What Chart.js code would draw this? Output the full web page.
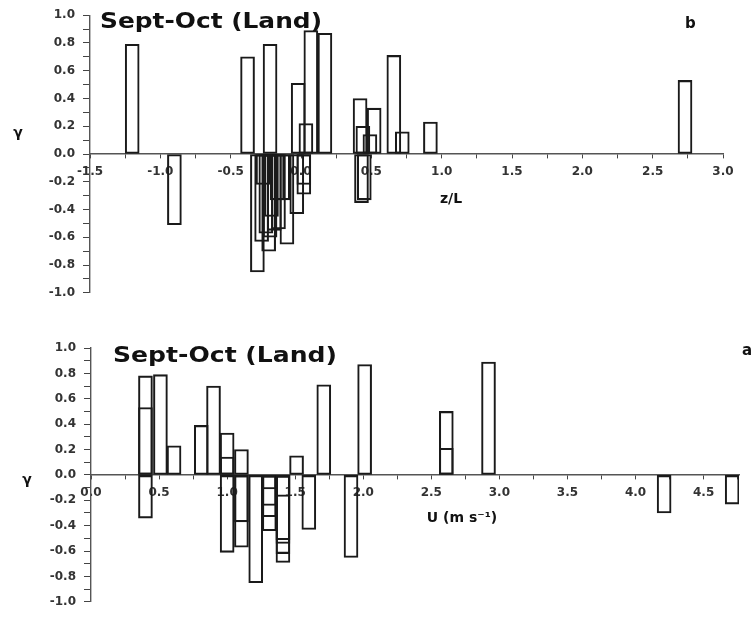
<!DOCTYPE html>
<html>
<head>
<meta charset="utf-8">
<script src="https://cdn.jsdelivr.net/npm/chart.js@4.4.0/dist/chart.umd.min.js"></script>
<style>
body { margin: 0; background: #fff; }
canvas { position: absolute; left: 0; }
#chartB { top: 0; }
#chartA { top: 308px; }
</style>
</head>
<body>
<canvas id="chartB" width="752" height="308"></canvas>
<canvas id="chartA" width="752" height="309"></canvas>
<script>
// panel b : gamma vs z/L
const zlX = [-1.2, -0.9, -0.38, -0.22, -0.02, 0.035, 0.07, 0.17, 0.42, 0.44, 0.49, 0.52, 0.66, 0.72, 0.92, 2.73,
  -0.31, -0.28, -0.27, -0.25, -0.23, -0.22, -0.21, -0.19, -0.17, -0.16, -0.13, -0.10, -0.03, 0.02, 0.02, 0.43, 0.45];
const zlGamma = [0.79, -0.51, 0.70, 0.79, 0.51, 0.22, 0.89, 0.87, 0.40, 0.20, 0.14, 0.33, 0.71, 0.16, 0.23, 0.53,
  -0.85, -0.63, -0.22, -0.57, -0.70, -0.60, -0.45, -0.55, -0.33, -0.54, -0.33, -0.65, -0.43, -0.29, -0.22, -0.35, -0.33];

// panel a : gamma vs wind speed U
const uX = [0.40, 0.40, 0.40, 0.51, 0.61, 0.81, 0.90, 1.00, 1.00, 1.00, 1.105, 1.105, 1.105, 1.21,
  1.31, 1.31, 1.31, 1.31, 1.41, 1.41, 1.41, 1.41, 1.41, 1.51, 1.60, 1.71, 1.91, 2.01, 2.61, 2.61, 2.92, 4.21, 4.71];
const uGamma = [0.78, 0.53, -0.34, 0.79, 0.23, 0.39, 0.70, 0.33, 0.14, -0.61, 0.20, -0.37, -0.57, -0.85,
  -0.11, -0.24, -0.33, -0.44, -0.17, -0.51, -0.54, -0.62, -0.69, 0.15, -0.43, 0.71, -0.65, 0.87, 0.50, 0.21, 0.89, -0.30, -0.23];

const gammaTicks = [-1.0, 1.0, 0.1];

Chart.defaults.font.family = 'DejaVu Sans';

const tickFont = { family: 'DejaVu Sans', size: 12, weight: 'bold' };

function textPlugin(items) {
  return {
    id: 'panelText',
    afterDraw(chart) {
      const ctx = chart.ctx;
      items.forEach(t => {
        ctx.save();
        ctx.font = t.font;
        ctx.fillStyle = '#111';
        ctx.textAlign = t.align || 'left';
        ctx.textBaseline = 'alphabetic';
        ctx.translate(t.x, t.y);
        if (t.width) ctx.scale(t.width / ctx.measureText(t.text).width, 1);
        ctx.fillText(t.text, 0, 0);
        ctx.restore();
      });
    }
  };
}

function makeChart(id, xs, ys, xMin, xMax, pad, yWidth, texts) {
  return new Chart(document.getElementById(id), {
    type: 'bar',
    data: {
      datasets: [{
        data: xs.map((x, i) => ({ x: x, y: ys[i] })),
        backgroundColor: 'rgba(0,0,0,0)',
        borderColor: '#1a1a1a',
        borderWidth: 1.4,
        borderSkipped: false,
        barThickness: 14,
        grouped: false
      }]
    },
    options: {
      responsive: false,
      animation: false,
      layout: { padding: pad },
      plugins: { legend: { display: false }, tooltip: { enabled: false } },
      scales: {
        x: {
          type: 'linear',
          position: { y: 0 },
          min: xMin,
          max: xMax,
          offset: false,
          afterFit: s => { s.height = 0; },
          grid: { offset: false, drawOnChartArea: false, drawTicks: true, tickLength: 4, color: '#444' },
          border: { display: true, color: '#555', width: 1.4 },
          ticks: {
            stepSize: 0.25,
            includeBounds: false,
            autoSkip: false,
            maxRotation: 0,
            padding: 7,
            color: '#333',
            font: tickFont,
            callback: (v, i) => i % 2 === 0 ? v.toFixed(1) : ''
          }
        },
        y: {
          type: 'linear',
          position: 'left',
          min: gammaTicks[0],
          max: gammaTicks[1],
          afterFit: s => { s.width = yWidth; },
          grid: { drawOnChartArea: false, drawTicks: true, tickLength: 7, color: '#444' },
          border: { display: true, color: '#555', width: 1.4 },
          ticks: {
            stepSize: gammaTicks[2],
            autoSkip: false,
            padding: 8,
            color: '#333',
            font: tickFont,
            callback: (v, i) => i % 2 === 0 ? v.toFixed(1) : ''
          }
        }
      }
    },
    plugins: [textPlugin(texts)]
  });
}

makeChart('chartB', zlX, zlGamma, -1.5, 3.0, { top: 15, bottom: 12, left: 0, right: 29 }, 90, [
  { text: 'Sept-Oct (Land)', font: 'bold 21px "DejaVu Sans"', x: 100, y: 28, width: 222 },
  { text: 'b', font: 'bold 15px "DejaVu Sans"', x: 685, y: 28 },
  { text: 'γ', font: 'bold 14px "DejaVu Sans"', x: 18, y: 137, align: 'center' },
  { text: 'z/L', font: 'bold 14px "DejaVu Sans"', x: 451, y: 203, align: 'center' }
]);

makeChart('chartA', uX, uGamma, 0, 4.76, { top: 40, bottom: 8, left: 0, right: 13 }, 91, [
  { text: 'Sept-Oct (Land)', font: 'bold 21px "DejaVu Sans"', x: 113, y: 54, width: 224 },
  { text: 'a', font: 'bold 15px "DejaVu Sans"', x: 742, y: 47 },
  { text: 'γ', font: 'bold 14px "DejaVu Sans"', x: 27, y: 176, align: 'center' },
  { text: 'U (m s⁻¹)', font: 'bold 14px "DejaVu Sans"', x: 462, y: 214, align: 'center' }
]);
</script>
</body>
</html>
